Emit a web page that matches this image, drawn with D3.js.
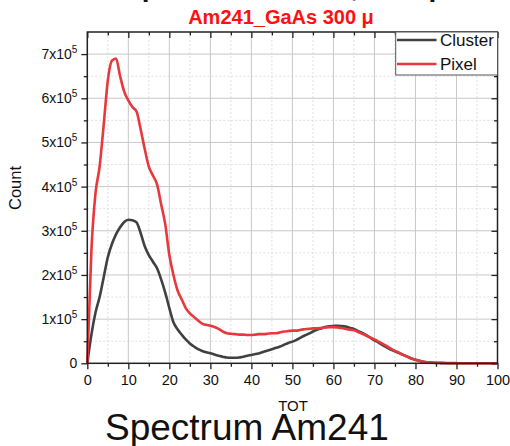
<!DOCTYPE html>
<html><head><meta charset="utf-8">
<script src="https://cdn.jsdelivr.net/npm/d3@7"></script>
<style>
html,body{margin:0;padding:0;background:#fff;}
svg{display:block;font-family:Arial,"Liberation Sans",sans-serif;}
</style></head>
<body>
<svg id="c" width="510" height="446"></svg>
<script>
// ---- data (counts in units of 1e5) ----
const tot = d3.range(0, 101);
const pixel = [0,2.55,3.85,4.45,5.4,6.4,6.85,6.9,6.5,6.15,
5.95,5.8,5.7,5.3,4.85,4.45,4.25,4.05,3.6,3.15,
2.45,2.0,1.65,1.45,1.25,1.13,1.05,0.97,0.9,0.87,
0.85,0.82,0.78,0.72,0.68,0.67,0.66,0.65,0.65,0.64,
0.64,0.65,0.66,0.66,0.67,0.68,0.68,0.70,0.72,0.73,
0.74,0.74,0.76,0.77,0.78,0.79,0.79,0.80,0.81,0.82,
0.82,0.81,0.80,0.78,0.76,0.75,0.71,0.67,0.63,0.58,
0.54,0.49,0.44,0.39,0.33,0.28,0.24,0.19,0.15,0.11,
0.08,0.05,0.035,0.025,0.018,0.013,0.01,0.007,0.005,0.004,
0.003,0.002,0.002,0.001,0.001,0.001,0.001,0,0,0,0];
const cluster = [0,0.65,1.15,1.5,1.95,2.4,2.7,2.92,3.08,3.2,
3.25,3.24,3.19,2.95,2.65,2.45,2.3,2.15,1.9,1.6,
1.25,0.93,0.77,0.65,0.54,0.45,0.38,0.32,0.28,0.25,
0.23,0.2,0.17,0.15,0.13,0.125,0.125,0.13,0.15,0.17,
0.19,0.21,0.23,0.26,0.29,0.32,0.35,0.38,0.42,0.46,
0.49,0.53,0.58,0.63,0.67,0.72,0.76,0.79,0.82,0.84,
0.845,0.85,0.845,0.83,0.80,0.78,0.73,0.69,0.64,0.58,
0.52,0.47,0.41,0.36,0.31,0.27,0.23,0.19,0.15,0.11,
0.08,0.055,0.035,0.02,0.013,0.008,0.005,0.003,0.002,0.001,
0.001,0.001,0,0,0,0,0,0,0,0,0];
const xTicks = [0,10,20,30,40,50,60,70,80,90,100];
const yTicks = [0,1,2,3,4,5,6,7];
const seriesNames = ["Cluster","Pixel"];
const seriesColors = ["#404040","#e8383d"];

const svg = d3.select("#c");
const L = 87.3, R = 497.5, T = 32, B = 363.3;
const x = d3.scaleLinear().domain([0,100]).range([L,R]);
const y = d3.scaleLinear().domain([0,7.5]).range([B,T]);

// grid
const g = svg.append("g");
const minorX = d3.range(5,100,10), minorY = d3.range(0.5,7.5,1);
g.selectAll(".mx").data(minorX).enter().append("line")
 .attr("x1",d=>x(d)).attr("x2",d=>x(d)).attr("y1",T).attr("y2",B)
 .attr("stroke","#d8d8d8").attr("stroke-dasharray","2,2").attr("stroke-width",0.8);
g.selectAll(".my").data(minorY).enter().append("line")
 .attr("y1",d=>y(d)).attr("y2",d=>y(d)).attr("x1",L).attr("x2",R)
 .attr("stroke","#d8d8d8").attr("stroke-dasharray","2,2").attr("stroke-width",0.8);
g.selectAll(".Mx").data(xTicks.slice(1,-1)).enter().append("line")
 .attr("x1",d=>x(d)).attr("x2",d=>x(d)).attr("y1",T).attr("y2",B)
 .attr("stroke","#c8c8c8").attr("stroke-width",1);
g.selectAll(".My").data(yTicks.slice(1)).enter().append("line")
 .attr("y1",d=>y(d)).attr("y2",d=>y(d)).attr("x1",L).attr("x2",R)
 .attr("stroke","#c8c8c8").attr("stroke-width",1);

// lines
const line = d3.line().x((d,i)=>x(tot[i])).y(d=>y(d)).curve(d3.curveMonotoneX);
svg.append("path").datum(cluster).attr("d",line).attr("fill","none")
 .attr("stroke",seriesColors[0]).attr("stroke-width",2.6).attr("stroke-linejoin","round");
svg.append("path").datum(pixel).attr("d",line).attr("fill","none")
 .attr("stroke",seriesColors[1]).attr("stroke-width",2.6).attr("stroke-linejoin","round");

// axes
const axCol = "#222";
const axBottom = svg.append("g").attr("transform",`translate(0,${B})`)
 .call(d3.axisBottom(x).tickValues(xTicks).tickSize(6).tickPadding(5));
svg.append("g").attr("transform",`translate(0,${B})`)
 .call(d3.axisBottom(x).tickValues(minorX).tickSize(3.5).tickFormat(""));
svg.append("g").attr("transform",`translate(0,${T})`)
 .call(d3.axisBottom(x).tickValues(xTicks).tickSize(6).tickFormat(""));
svg.append("g").attr("transform",`translate(0,${T})`)
 .call(d3.axisBottom(x).tickValues(minorX).tickSize(3.5).tickFormat(""));
svg.append("g").attr("transform",`translate(${L},0)`)
 .call(d3.axisLeft(y).tickValues(yTicks).tickSize(6).tickFormat(""));
svg.append("g").attr("transform",`translate(${L},0)`)
 .call(d3.axisLeft(y).tickValues(minorY).tickSize(3.5).tickFormat(""));
svg.append("g").attr("transform",`translate(${R},0)`)
 .call(d3.axisLeft(y).tickValues(yTicks).tickSize(6).tickFormat(""));
svg.append("g").attr("transform",`translate(${R},0)`)
 .call(d3.axisLeft(y).tickValues(minorY).tickSize(3.5).tickFormat(""));
svg.selectAll(".domain").remove();
svg.selectAll(".tick line").attr("stroke",axCol).attr("stroke-width",1.3);
axBottom.selectAll("text").attr("font-size","14.5px").attr("fill","#111")
 .attr("font-family","Arial,'Liberation Sans',sans-serif");

// left labels with superscripts
const yl = svg.append("g");
yTicks.forEach(v=>{
  const t = yl.append("text").attr("x",L-10).attr("y",y(v)+5)
   .attr("text-anchor","end").attr("font-size","14px").attr("fill","#111");
  if (v===0) { t.text("0"); }
  else {
    t.append("tspan").text(v+"x10");
    t.append("tspan").attr("font-size","10px").attr("dy","-6").text("5");
  }
});

// frame
svg.append("rect").attr("x",L).attr("y",T).attr("width",R-L).attr("height",B-T)
 .attr("fill","none").attr("stroke",axCol).attr("stroke-width",1.5);

// legend
const lg = svg.append("g");
lg.append("rect").attr("x",395.7).attr("y",T).attr("width",R-395.7).attr("height",43)
 .attr("fill","#fff").attr("stroke","#555").attr("stroke-width",1);
seriesNames.forEach((n,i)=>{
  const yy = 40 + i*24;
  lg.append("line").attr("x1",397).attr("x2",436.5).attr("y1",yy).attr("y2",yy)
   .attr("stroke",seriesColors[i]).attr("stroke-width",2.6);
  lg.append("text").attr("x",440).attr("y",yy+6).attr("font-size","17px").attr("fill","#111").text(n);
});

// titles
svg.append("text").attr("x",123).attr("y",-4).attr("font-size","28px").attr("font-weight","bold")
 .attr("fill","#111").text("Spectrum Am241, Comparison");
svg.append("text").attr("x",281).attr("y",24).attr("text-anchor","middle").attr("font-size","20px")
 .attr("font-weight","bold").attr("fill","#ff1010").text("Am241_GaAs 300 μ");
svg.append("text").attr("x",293).attr("y",411).attr("text-anchor","middle").attr("font-size","15px")
 .attr("fill","#111").text("TOT");
svg.append("text").attr("x",105).attr("y",440).attr("font-size","37px").attr("fill","#111")
 .text("Spectrum Am241");
svg.append("text").attr("transform","translate(21,188) rotate(-90)").attr("text-anchor","middle")
 .attr("font-size","16.5px").attr("fill","#111").text("Count");
</script>
</body></html>
